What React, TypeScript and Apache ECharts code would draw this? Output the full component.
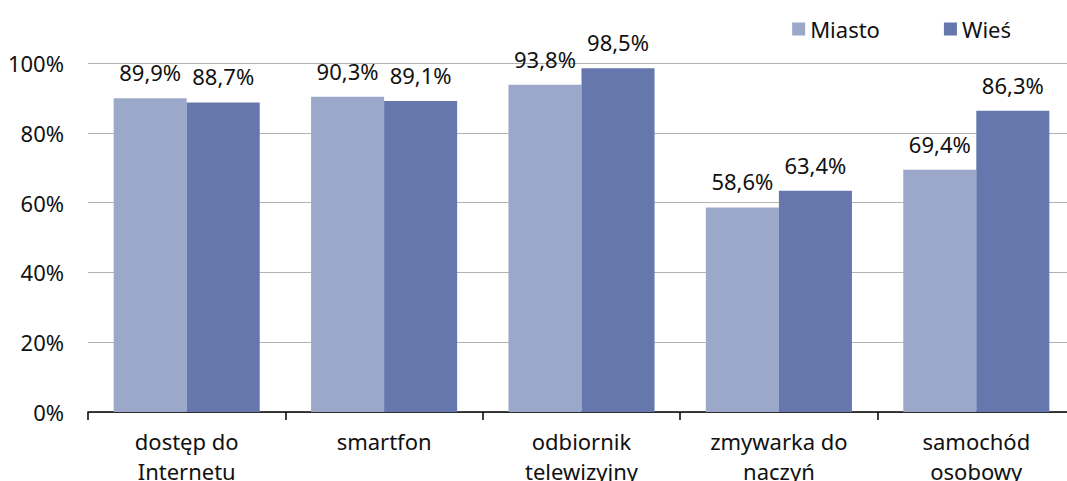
import React, { useEffect, useRef } from "react";
import * as echarts from "echarts";

const categories = ["dostęp do\nInternetu", "smartfon", "odbiornik\ntelewizyjny", "zmywarka do\nnaczyń", "samochód\nosobowy"];
const miasto = [89.9, 90.3, 93.8, 58.6, 69.4];
const wies = [88.7, 89.1, 98.5, 63.4, 86.3];
const seriesNames = ["Miasto", "Wieś"];
const colors = ["#9ba8ca", "#6677ad"];

const FONT = "'Noto Sans', 'Open Sans', sans-serif";

export default function App() {
  const ref = useRef<HTMLDivElement>(null);
  useEffect(() => {
    if (!ref.current) return;
    const chart = echarts.init(ref.current, null, { renderer: "svg" });
    const label = {
      show: true,
      position: "top",
      distance: 15,
      fontFamily: FONT,
      fontSize: 22,
      color: "#111",
      formatter: (p: any) => p.value.toFixed(1).replace(".", ",") + "%",
    };
    chart.setOption({
      animation: false,
      textStyle: { fontFamily: FONT },
      legend: {
        top: 13,
        right: 51,
        itemWidth: 13,
        itemHeight: 13,
        itemGap: 64,
        icon: "rect",
        textStyle: { fontFamily: FONT, fontSize: 22, color: "#111" },
        data: seriesNames,
      },
      grid: { left: 88, top: 63, bottom: 69, width: 987, containLabel: false, outerBoundsMode: "none" },
      xAxis: {
        type: "category",
        data: categories,
        axisLine: { lineStyle: { color: "#000", width: 1.5 } },
        axisTick: { show: true, length: 8, lineStyle: { color: "#000", width: 1.5 } },
        axisLabel: { fontFamily: FONT, fontSize: 22, color: "#111", margin: 14, lineHeight: 30 },
      },
      yAxis: {
        type: "value",
        min: 0,
        max: 100,
        interval: 20,
        axisLine: { show: false },
        axisTick: { show: false },
        splitLine: { lineStyle: { color: "#b3b3b3", width: 1 } },
        axisLabel: { fontFamily: FONT, fontSize: 22, color: "#111", margin: 24, formatter: "{value}%" },
      },
      series: [
        { name: seriesNames[0], type: "bar", data: miasto, itemStyle: { color: colors[0] }, barGap: "0%", barCategoryGap: "26%", label },
        { name: seriesNames[1], type: "bar", data: wies, itemStyle: { color: colors[1] }, barGap: "0%", barCategoryGap: "26%", label },
      ],
    });
    return () => chart.dispose();
  }, []);
  return <div ref={ref} style={{ width: 1067, height: 481, position: "absolute", left: 0, top: 0, background: "#fff" }} />;
}
